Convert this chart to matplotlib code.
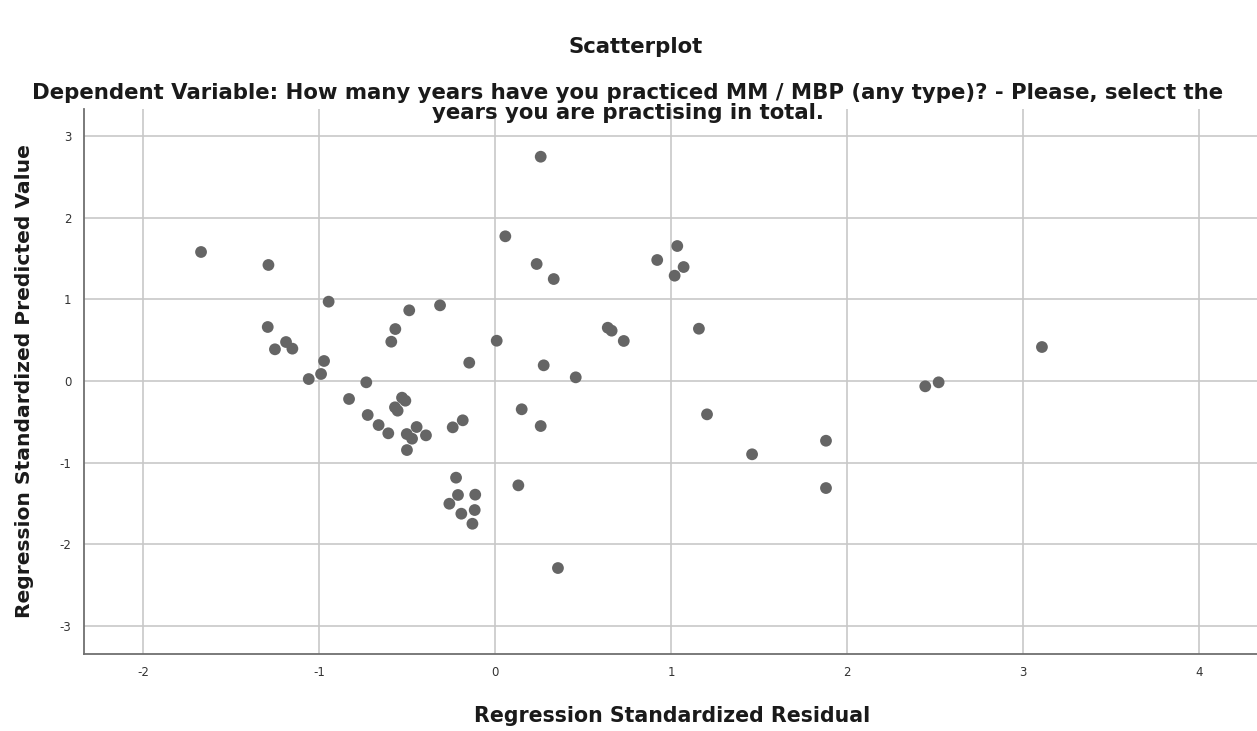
import matplotlib.pyplot as plt
import numpy as np

# Regression standardized residual (x) vs standardized predicted value (y)
residual = [
    -1.672, -1.289, -0.947, -1.293, -1.189, -1.153, -1.252, -0.973,
    -0.489, -0.314, -0.568, -0.591, -0.148, 0.008, 0.057, 0.258,
    0.235, 0.332, 0.920, 1.034, 1.070, 1.019, 0.639, 0.661,
    0.730, 1.157, 0.275, 3.106, -0.990, -1.060, -0.733, -0.831,
    -0.530, -0.511, -0.570, -0.555, -0.725, -0.663, -0.608, -0.503,
    -0.473, -0.447, -0.394, -0.502, -0.242, -0.185, -0.223, -0.212,
    -0.114, -0.261, -0.117, -0.193, -0.130, 0.457, 0.150, 0.258,
    1.203, 1.459, 0.131, 0.356, 2.443, 2.519, 1.879, 1.879,
]
predicted = [
    1.579, 1.420, 0.971, 0.661, 0.477, 0.396, 0.388, 0.245,
    0.865, 0.926, 0.636, 0.481, 0.224, 0.493, 1.771, 2.745,
    1.432, 1.248, 1.481, 1.652, 1.395, 1.289, 0.652, 0.616,
    0.490, 0.640, 0.192, 0.416, 0.086, 0.024, -0.016, -0.220,
    -0.204, -0.241, -0.322, -0.363, -0.416, -0.539, -0.640, -0.649,
    -0.706, -0.563, -0.665, -0.845, -0.567, -0.481, -1.183, -1.395,
    -1.391, -1.502, -1.579, -1.624, -1.747, 0.045, -0.346, -0.551,
    -0.408, -0.897, -1.277, -2.289, -0.065, -0.016, -0.731, -1.310,
]
x_ticks = [-2, -1, 0, 1, 2, 3, 4]
y_ticks = [-3, -2, -1, 0, 1, 2, 3]

title = "Scatterplot"
subtitle_lines = [
    "Dependent Variable: How many years have you practiced MM / MBP "
    "(any type)? - Please, select the",
    "years you are practising in total.",
]
x_label = "Regression Standardized Residual"
y_label = "Regression Standardized Predicted Value"

plt.rcParams['font.family'] = ['DejaVu Sans']

W, H = 1257, 731
fig = plt.figure(figsize=(W / 100, H / 100), dpi=100)
ax = fig.add_axes([84 / W, 1 - 654 / H, 1 - 84 / W, (654 - 109) / H])

ax.scatter(residual, predicted, s=72, color='#656565', edgecolors='none',
           zorder=3)

ax.set_xlim(-2.337, 4.328)
ax.set_ylim(-3.341, 3.329)
ax.set_xticks(x_ticks)
ax.set_yticks(y_ticks)
ax.set_xticklabels([str(t) for t in x_ticks])
ax.set_yticklabels([str(t) for t in y_ticks])
ax.tick_params(length=0, labelsize=8.5, labelcolor='#333333', pad=9)

ax.grid(True, color='#c8c8c8', linewidth=1.2, zorder=0)
ax.set_axisbelow(True)
for side in ['top', 'right']:
    ax.spines[side].set_visible(False)
for side in ['left', 'bottom']:
    ax.spines[side].set_color('#707070')
    ax.spines[side].set_linewidth(1.3)

title_style = dict(ha='center', va='center', fontsize=15.3,
                   fontweight='bold', color='#1a1a1a')
fig.text(636 / W, 1 - 47 / H, title, **title_style)
fig.text(628 / W, 1 - 93 / H, subtitle_lines[0], **title_style)
fig.text(628 / W, 1 - 113 / H, subtitle_lines[1], **title_style)

fig.text(672 / W, 1 - 716 / H, x_label, ha='center', va='center',
         fontsize=14.8, fontweight='bold', color='#1a1a1a')
fig.text(25 / W, 1 - 381 / H, y_label, ha='center', va='center',
         rotation=90, fontsize=14.6, fontweight='bold', color='#1a1a1a')

fig.savefig('out.png', dpi=100)
